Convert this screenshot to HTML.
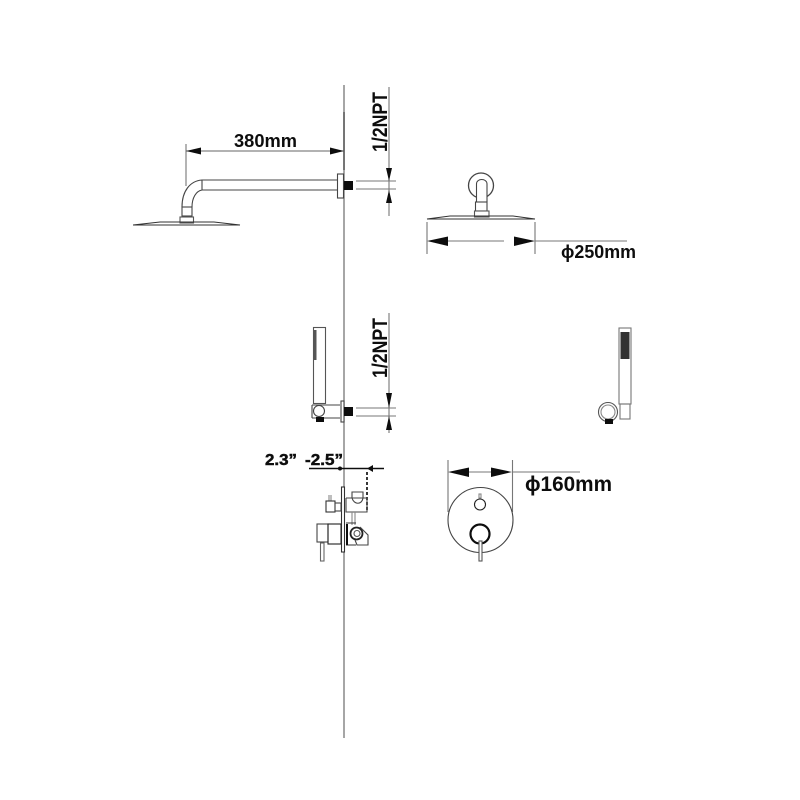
<!DOCTYPE html>
<html>
<head>
<meta charset="utf-8">
<style>
html,body{margin:0;padding:0;background:#fff;width:800px;height:800px;overflow:hidden}
svg{display:block}
text{font-family:"Liberation Sans",sans-serif;font-weight:bold;fill:#111}
</style>
</head>
<body>
<svg width="800" height="800" viewBox="0 0 800 800" xmlns="http://www.w3.org/2000/svg">
<defs><filter id="b" x="0" y="0" width="100%" height="100%"><feGaussianBlur stdDeviation="0.35"/></filter></defs>
<rect width="800" height="800" fill="#fff"/>
<g filter="url(#b)">
<g fill="none" stroke="#555" stroke-width="1.1">
  <!-- wall -->
  <line x1="344" y1="85" x2="344" y2="738" stroke="#777" stroke-width="1.3"/>
  <line x1="344" y1="112" x2="344" y2="170" stroke="#555" stroke-width="1.5"/>

  <!-- top side view: arm -->
  <path d="M338 180H202C190 181 182 191 182 207M338 190H202C196 191 192 198 192 207M202 180V190" stroke="#444"/>
  <rect x="337.500" y="174" width="6" height="24" fill="#fff" stroke="#444"/>
  <rect x="182" y="207" width="10" height="9" fill="#fff" stroke="#444"/>
  <rect x="180" y="217" width="13.500" height="6" fill="#fff" stroke="#555"/>
  <path d="M133 225H240M133 225L160 222H214L240 225" stroke="#333"/>

  <!-- 380 dimension -->
  <line x1="186" y1="144" x2="186" y2="186" stroke="#777"/>
  <line x1="186" y1="151" x2="344" y2="151" stroke="#666"/>

  <!-- top NPT -->
  <line x1="389" y1="87" x2="389" y2="216" stroke="#777"/>
  <line x1="356" y1="181" x2="396" y2="181" stroke="#777"/>
  <line x1="356" y1="189" x2="396" y2="189" stroke="#777"/>

  <!-- top front view -->
  <circle cx="481" cy="185.500" r="12.500" stroke="#444" stroke-width="1.300"/>
  <path d="M476.500 202V184C476.500 178 487 178 487 184V202" fill="#fff" stroke="#444"/>
  <rect x="475.500" y="202" width="11.500" height="9" fill="#fff" stroke="#444"/>
  <rect x="474.500" y="211" width="14.500" height="6" fill="#fff" stroke="#555"/>
  <path d="M427 219H535M427 219L450 216H513L535 219" stroke="#333"/>
  <line x1="427" y1="222" x2="427" y2="254" stroke="#777"/>
  <line x1="535" y1="222" x2="535" y2="254" stroke="#777"/>
  <line x1="448" y1="241" x2="504" y2="241" stroke="#777"/>
  <line x1="535" y1="241" x2="627" y2="241" stroke="#777"/>

  <!-- handset side -->
  <rect x="313.500" y="327.500" width="12" height="76" stroke="#555"/>
  <path d="M312 405H340M312 418H340M312 405V418" stroke="#444"/>
  <circle cx="319" cy="411" r="5.500" fill="#fff" stroke="#444"/>
  <rect x="341" y="401" width="3" height="21" fill="#fff" stroke="#444"/>
  <line x1="389" y1="313" x2="389" y2="433" stroke="#777"/>
  <line x1="356" y1="408" x2="396" y2="408" stroke="#777"/>
  <line x1="356" y1="416" x2="396" y2="416" stroke="#777"/>

  <!-- handset front -->
  <rect x="619" y="328" width="12" height="76" stroke="#777"/>
  <rect x="620" y="404" width="10" height="15" stroke="#777"/>
  <circle cx="608" cy="412" r="9.500" fill="#fff" stroke="#555"/>
  <circle cx="608" cy="412" r="7" stroke="#888"/>

  <!-- valve side -->
  <line x1="309" y1="468.500" x2="384" y2="468.500" stroke="#111" stroke-width="1.400"/>
  <line x1="367" y1="472" x2="367" y2="510" stroke="#222" stroke-width="1.800" stroke-dasharray="3 2"/>
  <rect x="341.500" y="487" width="3" height="65" fill="#fff" stroke="#333"/>
  <path d="M329 501V495M331 501V495" stroke="#888"/>
  <rect x="326" y="501" width="9" height="11" stroke="#333"/>
  <rect x="335" y="503" width="6" height="8" stroke="#444"/>
  <path d="M352 498C354 505 362 505 363 498V492H352V498M346 498V512H367V498H346" stroke="#444"/>
  <path d="M352 512V525M355 512V525" stroke="#888"/>
  <rect x="317" y="524" width="11" height="18" stroke="#444"/>
  <rect x="328" y="524" width="13" height="20" stroke="#222"/>
  <rect x="320.500" y="543" width="3.500" height="18" stroke="#666"/>
  <path d="M346 523H356M346 545H356" stroke="#333"/>
  <line x1="347" y1="524" x2="347" y2="545" stroke="#111" stroke-width="2"/>
  <circle cx="356.500" cy="533.500" r="6" stroke="#222" stroke-width="1.800"/>
  <circle cx="357" cy="533.500" r="3" stroke="#555"/>
  <path d="M360 527L368 535V545H357L355 540" stroke="#444"/>

  <!-- valve front -->
  <line x1="448" y1="460" x2="448" y2="512" stroke="#777"/>
  <line x1="512.500" y1="460" x2="512.500" y2="512" stroke="#777"/>
  <line x1="469" y1="472" x2="491" y2="472" stroke="#777"/>
  <line x1="512" y1="472" x2="580" y2="472" stroke="#777"/>
  <circle cx="480.500" cy="520" r="32.500" stroke="#444"/>
  <circle cx="480" cy="504.500" r="5.500" stroke="#222"/>
  <rect x="479" y="494" width="2" height="4" stroke="#888"/>
  <circle cx="480" cy="534" r="9.500" stroke="#111" stroke-width="2.200"/>
  <rect x="479" y="541" width="3" height="20" fill="#fff" stroke="#555"/>
</g>

<g fill="#111" stroke="none">
  <!-- arrowheads 380 -->
  <path d="M186 151L201 147.500V154.500Z"/>
  <path d="M344 151L330 147.500V154.500Z" />
  <!-- NPT arrows -->
  <path d="M389 181L386 168H392Z"/>
  <path d="M389 190L386 203H392Z"/>
  <path d="M389 408L386 393H392Z"/>
  <path d="M389 416L386 430H392Z"/>
  <!-- 250 arrows -->
  <path d="M427 241L448 236.500V246Z"/>
  <path d="M535 241L514 236.500V246Z"/>
  <!-- 160 arrows -->
  <path d="M448 472L469 467.500V477Z"/>
  <path d="M512 472L491 467.500V477Z"/>
  <!-- black squares -->
  <rect x="344" y="181" width="9" height="9"/>
  <rect x="344" y="407" width="9" height="9"/>
  <rect x="316" y="417" width="8" height="5"/>
  <rect x="605" y="419" width="8" height="5"/>
  <!-- perforations -->
  <rect x="313.500" y="330" width="3" height="30" fill="#555"/>
  <rect x="620.500" y="332" width="9" height="27" fill="#333"/>
  <!-- valve dim -->
  <circle cx="340" cy="468.500" r="2"/>
  <path d="M367 468.500L373 465V472Z"/>
</g>

<text x="234" y="147" font-size="18" textLength="63" lengthAdjust="spacingAndGlyphs">380mm</text>
<text x="0" y="0" font-size="21" transform="translate(387 152) rotate(-90)" textLength="60" lengthAdjust="spacingAndGlyphs">1/2NPT</text>
<text x="0" y="0" font-size="21" transform="translate(387 378) rotate(-90)" textLength="60" lengthAdjust="spacingAndGlyphs">1/2NPT</text>
<text x="561" y="258" font-size="18" textLength="75" lengthAdjust="spacingAndGlyphs">ϕ250mm</text>
<text x="525" y="491" font-size="21" textLength="87" lengthAdjust="spacingAndGlyphs">ϕ160mm</text>
<text x="265" y="465" font-size="16" stroke="#111" stroke-width="0.500" textLength="32" lengthAdjust="spacingAndGlyphs">2.3”</text>
<text x="305" y="465" font-size="16" stroke="#111" stroke-width="0.500" textLength="38" lengthAdjust="spacingAndGlyphs">-2.5”</text>
</g>
</svg>
</body>
</html>
